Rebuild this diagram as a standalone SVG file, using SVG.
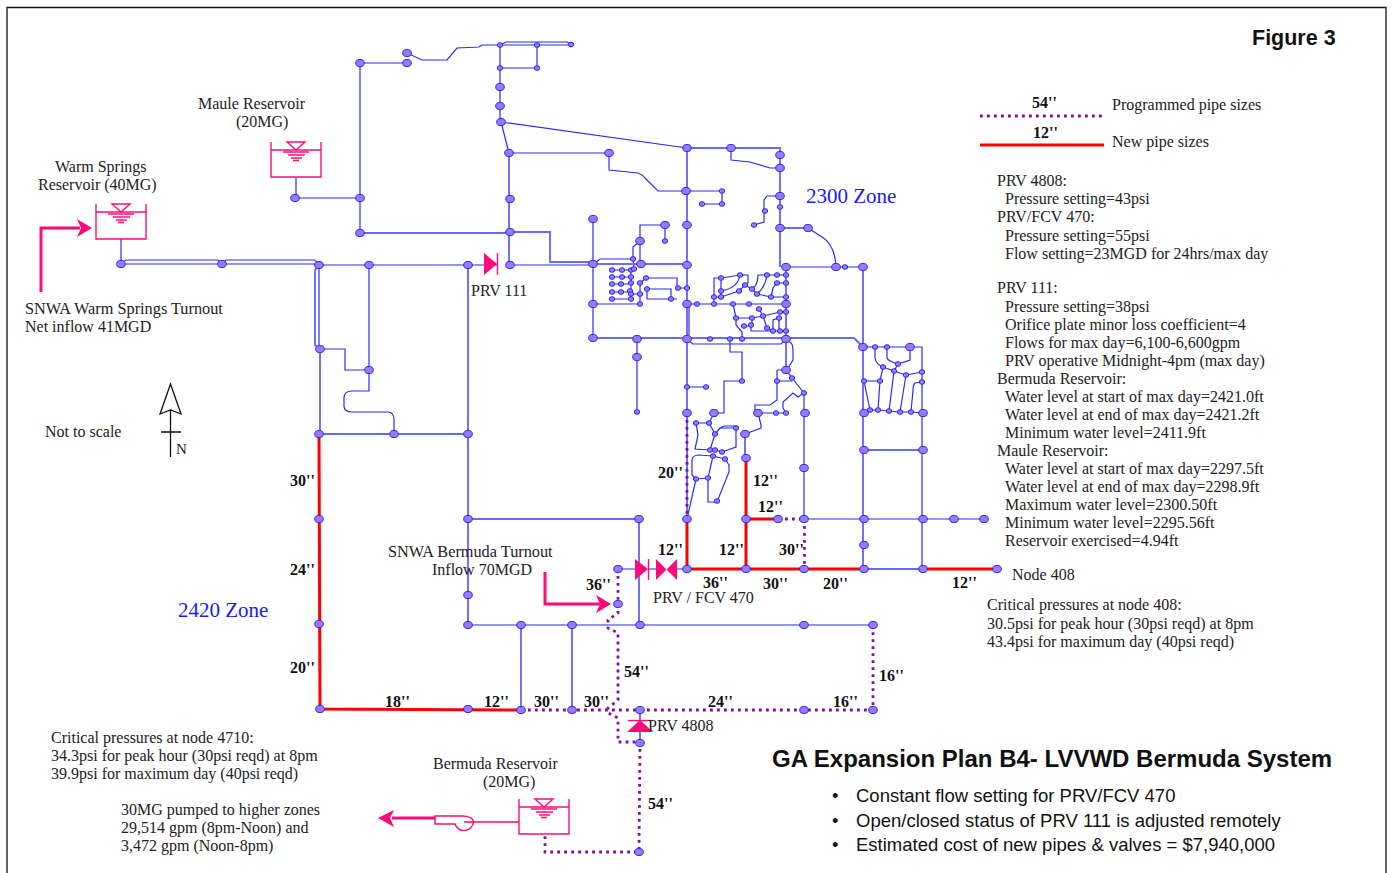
<svg xmlns="http://www.w3.org/2000/svg" width="1392" height="873" viewBox="0 0 1392 873">
<style>
text{font-family:"Liberation Serif","Times New Roman",serif;font-size:16px;fill:#222}
.c{font-size:16.3px}
.b{font-weight:bold;font-size:16px;fill:#111}
.z{font-size:21px;fill:#1a1aff}
.h{font-family:"Liberation Sans",Arial,sans-serif;font-weight:bold;fill:#111}
.g{font-size:21.5px}
.e{font-size:24px}
.u{font-family:"Liberation Sans",Arial,sans-serif;font-size:18.5px;fill:#111}
path{fill:none}
.t{stroke:#2a2aff;stroke-width:1.2}
.w{stroke:#6a6aff;stroke-width:1.9}
.r{stroke:#f00;stroke-width:3}
.d{stroke:#80109a;stroke-width:2.8;stroke-dasharray:2.8 4.2}
.m{stroke:#ff0a78;stroke-width:1.4}
.a{stroke:#ff0a78;stroke-width:3}
.f{fill:#ff0a78;stroke:none}
.k{stroke:#111;stroke-width:1.3}
.L,.S{fill:#9a78ff;stroke:#2a2aee;stroke-width:1}
.L{rx:4.3px;ry:3.6px}
.S{rx:2.7px;ry:2.3px}
</style>
<defs>
<g id="tank">
<path class="m" d="M-25,-8V27H25V-8M-25,0H25"/>
<path class="m" d="M-9,-8H9L0,0ZM-13,2H13M-8,5H9M-5,8H6M-3,10.500H3"/>
</g>
</defs>
<g id="frame"><path class="k" d="M7,873V7.500H1386V873"/></g>
<g id="connectors">
<g id="pipes-thin">
<path class="t" d="M360,63H407M407,53L422,60H447L457,48L479,47L482,45H500M500,45L506,42H567L571,44.500M500,45H571M500,45V122M500,68H537V45M501,122L509,153M501,122L687,148M509,153H609V170L638,173Q643,175 645,178L658,191H686M686,191H722V204H702"/>
<path class="t" d="M731,148V160L750,162L770,168H780M780,196H767L764,200V222L754,225M808,228L822,237Q835,245 836,267M360,63V233M121,239V264M296,178V198H360M593,219V338M510,265H593M633,259H600L594,264M640,241L633,247V259M634,269L633,259M665,225V241M665,225H640V264"/>
<path class="t" d="M121,264H222H319M121,264L126,260H218L222,264L226,260H315L319,265M319,265H497M320,349H345V370H369M369,265V391H352Q344,391 344,398V406Q344,412 352,412H388Q394,412 394,420V434M319,265V349"/>
<path class="t" d="M612,270H634M612,277H631M612,284H631M612,292H630M612,299H631M631,270V299M631,294H640M640,283V304M640,283L646,278H677V288H687M647,289H671V299H647V289M671,299H677M640,304H593M637,339V412M687,387H706"/>
<path class="t" d="M687,304H786M714,304V278H721V297M714,297H721M721,278L740,275M740,275Q738,288 721,291M721,297L739,291L745,285L748,283V275H740M745,285L752,289Q758,285 758,275H767H786M767,275Q765,288 757,294L752,289M757,294L771,297H786M771,297L773,288L777,283H786"/>
<path class="t" d="M733,304L736,318H752L763,316L780,312H786M759,309L763,316L767,328L773,331M736,318V325L742,332V339M752,318V325M744,326H751V331H786M773,331V320L779,318V331M730,339V352H742V381H724V413H714M687,304L689,308V335M687,339L693,344H781L786,339"/>
<path class="t" d="M786,339L790,342Q793,344 793,350V360L788,368M786,370L792,378L804,393V519M777,370H786M777,370V381H792M777,381V400L770,405H755V410L758,413H786M804,393L798,397L793,393L783,402V408L786,413M758,413L761,425V428L745,434"/>
<path class="t" d="M714,413L709,423H696L698,435L695,449L710,450H715L722,452M709,423L715,434L710,450M715,434L720,428L724,426H736V447L722,452M720,428H736M713,456L698,455Q692,456 692,460V475L696,479L708,478L713,456M708,478V502H717L729,472V465L725,459L713,456M696,479L687,519"/>
<path class="t" d="M863,347H922V569M875,347V358Q876,364 883,367L880,381L878,410M864,381H880M864,381L870,410M887,347V358Q888,361 898,364L910,360V347M883,367L894,371L906,375L922,372M894,371L889,411M906,375L900,412M922,382L915,383Q913,385 913,390L911,412M864,413L870,410H878L889,411L900,412L911,412L923,413M894,371L898,364"/>
<path class="t" d="M786,267H863M468,625H873M618,569H635M648,569H656M677,569H687M923,519H984M804,519H923"/>
</g>
<g id="pipes-wide">
<path class="w" d="M687,148V519M687,148H780V267M786,267V370M863,267V569M360,233H510M510,232H550V262H593M509,153V265M593,264H687M593,338H687H786H854L863,347M319,265L315,270V345L320,349V434M319,434H468M468,265V625M468,519H639V625M864,450H923M864,569H923M745,434V458M521,625V710M572,625V710M640,710V720M640,732V743M780,228H808"/>
</g>
<g id="pipes-new">
<path class="r" d="M319,434L320,709L521,710M687,519V569L864,569M923,569L997,569M746,458V569M746,519L778,519M980,145H1104"/>
</g>
<g id="pipes-programmed">
<path class="d" d="M687,413V519M778,519H804M804.500,519V569M618,569V613L608,620V628L618,633V700L608,708V713L618,718V742H640M521,710H873V625M640,742L639,852H545V835M980,116H1104"/>
</g>
</g>
<g id="nodes">
<g id="n1"><ellipse class="L" cx="407" cy="53"/></g><g id="n2"><ellipse class="L" cx="407" cy="63"/></g><g id="n3"><ellipse class="L" cx="360" cy="63"/></g><g id="n4"><ellipse class="S" cx="500" cy="45"/></g><g id="n5"><ellipse class="S" cx="537" cy="45"/></g><g id="n6"><ellipse class="S" cx="571" cy="44.500"/></g><g id="n7"><ellipse class="S" cx="500" cy="68"/></g><g id="n8"><ellipse class="S" cx="537" cy="68"/></g><g id="n9"><ellipse class="L" cx="500" cy="87"/></g><g id="n10"><ellipse class="L" cx="500" cy="106"/></g><g id="n11"><ellipse class="L" cx="501" cy="122"/></g><g id="n12"><ellipse class="L" cx="509" cy="153"/></g><g id="n13"><ellipse class="L" cx="609" cy="153"/></g><g id="n14"><ellipse class="L" cx="687" cy="148"/></g><g id="n15"><ellipse class="L" cx="731" cy="148"/></g><g id="n16"><ellipse class="L" cx="780" cy="155"/></g><g id="n17"><ellipse class="L" cx="780" cy="168"/></g><g id="n18"><ellipse class="L" cx="686" cy="191"/></g><g id="n19"><ellipse class="S" cx="722" cy="191"/></g><g id="n20"><ellipse class="S" cx="722" cy="204"/></g><g id="n21"><ellipse class="S" cx="702" cy="204"/></g><g id="n22"><ellipse class="L" cx="780" cy="196"/></g><g id="n23"><ellipse class="S" cx="780" cy="207"/></g><g id="n24"><ellipse class="S" cx="765" cy="211"/></g><g id="n25"><ellipse class="S" cx="754" cy="225"/></g><g id="n26"><ellipse class="L" cx="780" cy="228"/></g><g id="n27"><ellipse class="L" cx="808" cy="228"/></g><g id="n28"><ellipse class="L" cx="510" cy="199"/></g><g id="n29"><ellipse class="L" cx="510" cy="232"/></g><g id="n30"><ellipse class="L" cx="360" cy="233"/></g><g id="n31"><ellipse class="L" cx="360" cy="198"/></g><g id="n32"><ellipse class="L" cx="510" cy="265"/></g><g id="n33"><ellipse class="L" cx="468" cy="265"/></g><g id="n34"><ellipse class="L" cx="369" cy="265"/></g><g id="n35"><ellipse class="L" cx="593" cy="219"/></g><g id="n36"><ellipse class="L" cx="593" cy="264"/></g><g id="n37"><ellipse class="L" cx="687" cy="225"/></g><g id="n38"><ellipse class="L" cx="665" cy="225"/></g><g id="n39"><ellipse class="S" cx="665" cy="241"/></g><g id="n40"><ellipse class="L" cx="640" cy="241"/></g><g id="n41"><ellipse class="L" cx="641" cy="264"/></g><g id="n42"><ellipse class="S" cx="633" cy="259"/></g><g id="n43"><ellipse class="L" cx="687" cy="265"/></g>
<g id="n44"><ellipse class="S" cx="612" cy="270"/></g><g id="n45"><ellipse class="S" cx="622" cy="270"/></g><g id="n46"><ellipse class="S" cx="631" cy="270"/></g><g id="n47"><ellipse class="S" cx="634" cy="269"/></g><g id="n48"><ellipse class="S" cx="612" cy="277"/></g><g id="n49"><ellipse class="S" cx="622" cy="277"/></g><g id="n50"><ellipse class="S" cx="631" cy="277"/></g><g id="n51"><ellipse class="S" cx="612" cy="284"/></g><g id="n52"><ellipse class="S" cx="621" cy="284"/></g><g id="n53"><ellipse class="S" cx="631" cy="283"/></g><g id="n54"><ellipse class="S" cx="612" cy="292"/></g><g id="n55"><ellipse class="S" cx="621" cy="292"/></g><g id="n56"><ellipse class="S" cx="630" cy="291"/></g><g id="n57"><ellipse class="S" cx="612" cy="299"/></g><g id="n58"><ellipse class="S" cx="631" cy="299"/></g><g id="n59"><ellipse class="S" cx="631" cy="294"/></g><g id="n60"><ellipse class="S" cx="640" cy="283"/></g><g id="n61"><ellipse class="S" cx="646" cy="278"/></g><g id="n62"><ellipse class="S" cx="640" cy="294"/></g><g id="n63"><ellipse class="S" cx="640" cy="304"/></g><g id="n64"><ellipse class="S" cx="647" cy="289"/></g><g id="n65"><ellipse class="S" cx="671" cy="299"/></g><g id="n66"><ellipse class="S" cx="678" cy="288"/></g><g id="n67"><ellipse class="S" cx="687" cy="288"/></g>
<g id="n68"><ellipse class="L" cx="593" cy="304"/></g><g id="n69"><ellipse class="L" cx="687" cy="304"/></g><g id="n70"><ellipse class="L" cx="593" cy="338"/></g><g id="n71"><ellipse class="L" cx="637" cy="339"/></g><g id="n72"><ellipse class="L" cx="637" cy="357"/></g><g id="n73"><ellipse class="L" cx="687" cy="339"/></g><g id="n74"><ellipse class="S" cx="637" cy="412"/></g>
<g id="n75"><ellipse class="S" cx="697" cy="304"/></g><g id="n76"><ellipse class="S" cx="714" cy="304"/></g><g id="n77"><ellipse class="S" cx="733" cy="304"/></g><g id="n78"><ellipse class="S" cx="749" cy="304"/></g><g id="n79"><ellipse class="L" cx="786" cy="304"/></g><g id="n80"><ellipse class="S" cx="714" cy="297"/></g><g id="n81"><ellipse class="S" cx="721" cy="297"/></g><g id="n82"><ellipse class="S" cx="721" cy="291"/></g><g id="n83"><ellipse class="S" cx="721" cy="278"/></g><g id="n84"><ellipse class="S" cx="740" cy="275"/></g><g id="n85"><ellipse class="S" cx="745" cy="285"/></g><g id="n86"><ellipse class="S" cx="739" cy="291"/></g><g id="n87"><ellipse class="S" cx="752" cy="289"/></g><g id="n88"><ellipse class="S" cx="757" cy="294"/></g><g id="n89"><ellipse class="S" cx="767" cy="275"/></g><g id="n90"><ellipse class="S" cx="777" cy="275"/></g><g id="n91"><ellipse class="S" cx="786" cy="275"/></g><g id="n92"><ellipse class="S" cx="777" cy="283"/></g><g id="n93"><ellipse class="S" cx="786" cy="283"/></g><g id="n94"><ellipse class="S" cx="771" cy="297"/></g><g id="n95"><ellipse class="S" cx="786" cy="297"/></g><g id="n96"><ellipse class="L" cx="786" cy="267"/></g>
<g id="n97"><ellipse class="S" cx="759" cy="309"/></g><g id="n98"><ellipse class="S" cx="780" cy="312"/></g><g id="n99"><ellipse class="S" cx="786" cy="312"/></g><g id="n100"><ellipse class="S" cx="779" cy="318"/></g><g id="n101"><ellipse class="S" cx="763" cy="316"/></g><g id="n102"><ellipse class="S" cx="752" cy="318"/></g><g id="n103"><ellipse class="S" cx="736" cy="318"/></g><g id="n104"><ellipse class="S" cx="751" cy="325"/></g><g id="n105"><ellipse class="S" cx="744" cy="326"/></g><g id="n106"><ellipse class="S" cx="767" cy="328"/></g><g id="n107"><ellipse class="S" cx="773" cy="331"/></g><g id="n108"><ellipse class="S" cx="780" cy="331"/></g><g id="n109"><ellipse class="S" cx="786" cy="331"/></g><g id="n110"><ellipse class="L" cx="786" cy="339"/></g><g id="n111"><ellipse class="S" cx="742" cy="339"/></g><g id="n112"><ellipse class="S" cx="730" cy="339"/></g><g id="n113"><ellipse class="S" cx="710" cy="339"/></g><g id="n114"><ellipse class="L" cx="786" cy="370"/></g><g id="n115"><ellipse class="S" cx="792" cy="378"/></g><g id="n116"><ellipse class="S" cx="742" cy="381"/></g>
<g id="n117"><ellipse class="L" cx="687" cy="413"/></g><g id="n118"><ellipse class="S" cx="687" cy="387"/></g><g id="n119"><ellipse class="S" cx="706" cy="387"/></g><g id="n120"><ellipse class="L" cx="714" cy="413"/></g><g id="n121"><ellipse class="L" cx="758" cy="413"/></g><g id="n122"><ellipse class="S" cx="776" cy="413"/></g><g id="n123"><ellipse class="S" cx="786" cy="413"/></g><g id="n124"><ellipse class="L" cx="805" cy="413"/></g><g id="n125"><ellipse class="S" cx="777" cy="381"/></g><g id="n126"><ellipse class="S" cx="804" cy="393"/></g><g id="n127"><ellipse class="L" cx="745" cy="434"/></g><g id="n128"><ellipse class="L" cx="746" cy="458"/></g><g id="n129"><ellipse class="S" cx="736" cy="428"/></g><g id="n130"><ellipse class="S" cx="715" cy="434"/></g><g id="n131"><ellipse class="S" cx="696" cy="423"/></g><g id="n132"><ellipse class="S" cx="709" cy="423"/></g><g id="n133"><ellipse class="S" cx="710" cy="450"/></g><g id="n134"><ellipse class="S" cx="715" cy="450"/></g><g id="n135"><ellipse class="S" cx="722" cy="452"/></g><g id="n136"><ellipse class="S" cx="713" cy="456"/></g><g id="n137"><ellipse class="S" cx="725" cy="459"/></g><g id="n138"><ellipse class="S" cx="696" cy="479"/></g><g id="n139"><ellipse class="S" cx="708" cy="478"/></g><g id="n140"><ellipse class="S" cx="717" cy="501"/></g><g id="n141"><ellipse class="L" cx="804" cy="468"/></g>
<g id="n142"><ellipse class="L" cx="687" cy="519"/></g><g id="n143"><ellipse class="L" cx="746" cy="519"/></g><g id="n144"><ellipse class="L" cx="778" cy="519"/></g><g id="n145"><ellipse class="L" cx="804" cy="519"/></g><g id="n146"><ellipse class="L" cx="864" cy="519"/></g><g id="n147"><ellipse class="L" cx="923" cy="519"/></g><g id="n148"><ellipse class="L" cx="954" cy="519"/></g><g id="n149"><ellipse class="L" cx="984" cy="519"/></g><g id="n150"><ellipse class="L" cx="864" cy="450"/></g><g id="n151"><ellipse class="L" cx="923" cy="450"/></g><g id="n152"><ellipse class="L" cx="864" cy="413"/></g><g id="n153"><ellipse class="L" cx="923" cy="413"/></g>
<g id="n154"><ellipse class="S" cx="870" cy="410"/></g><g id="n155"><ellipse class="S" cx="878" cy="410"/></g><g id="n156"><ellipse class="S" cx="889" cy="411"/></g><g id="n157"><ellipse class="S" cx="900" cy="412"/></g><g id="n158"><ellipse class="S" cx="911" cy="412"/></g><g id="n159"><ellipse class="S" cx="864" cy="381"/></g><g id="n160"><ellipse class="S" cx="880" cy="381"/></g><g id="n161"><ellipse class="S" cx="883" cy="367"/></g><g id="n162"><ellipse class="S" cx="894" cy="371"/></g><g id="n163"><ellipse class="S" cx="898" cy="364"/></g><g id="n164"><ellipse class="S" cx="906" cy="375"/></g><g id="n165"><ellipse class="S" cx="922" cy="372"/></g><g id="n166"><ellipse class="S" cx="922" cy="382"/></g><g id="n167"><ellipse class="L" cx="863" cy="347"/></g><g id="n168"><ellipse class="S" cx="875" cy="347"/></g><g id="n169"><ellipse class="S" cx="887" cy="347"/></g><g id="n170"><ellipse class="L" cx="910" cy="347"/></g><g id="n171"><ellipse class="L" cx="836" cy="267"/></g><g id="n172"><ellipse class="S" cx="845" cy="267"/></g><g id="n173"><ellipse class="L" cx="863" cy="267"/></g>
<g id="n174"><ellipse class="L" cx="319" cy="265"/></g><g id="n175"><ellipse class="L" cx="320" cy="349"/></g><g id="n176"><ellipse class="L" cx="369" cy="370"/></g><g id="n177"><ellipse class="L" cx="319" cy="434"/></g><g id="n178"><ellipse class="L" cx="394" cy="434"/></g><g id="n179"><ellipse class="L" cx="468" cy="434"/></g><g id="n180"><ellipse class="L" cx="319" cy="519"/></g><g id="n181"><ellipse class="L" cx="319" cy="624"/></g><g id="n182"><ellipse class="L" cx="320" cy="709"/></g><g id="n183"><ellipse class="L" cx="468" cy="709"/></g><g id="n184"><ellipse class="L" cx="468" cy="519"/></g><g id="n185"><ellipse class="L" cx="468" cy="595"/></g><g id="n186"><ellipse class="L" cx="468" cy="625"/></g><g id="n187"><ellipse class="L" cx="121" cy="264"/></g><g id="n188"><ellipse class="L" cx="222" cy="264"/></g><g id="n189"><ellipse class="L" cx="295" cy="198"/></g>
<g id="n190"><ellipse class="L" cx="639" cy="519"/></g><g id="n191"><ellipse class="L" cx="618" cy="569"/></g><g id="n192"><ellipse class="L" cx="687" cy="569"/></g><g id="n193"><ellipse class="L" cx="746" cy="569"/></g><g id="n194"><ellipse class="L" cx="804" cy="569"/></g><g id="n195"><ellipse class="L" cx="864" cy="569"/></g><g id="n196"><ellipse class="L" cx="864" cy="545"/></g><g id="n197"><ellipse class="L" cx="923" cy="569"/></g><g id="n198"><ellipse class="L" cx="997" cy="569"/></g><g id="n199"><ellipse class="L" cx="618" cy="604"/></g><g id="n200"><ellipse class="L" cx="521" cy="625"/></g><g id="n201"><ellipse class="L" cx="572" cy="625"/></g><g id="n202"><ellipse class="L" cx="640" cy="625"/></g><g id="n203"><ellipse class="L" cx="804" cy="625"/></g><g id="n204"><ellipse class="L" cx="873" cy="625"/></g><g id="n205"><ellipse class="L" cx="521" cy="710"/></g><g id="n206"><ellipse class="L" cx="572" cy="710"/></g><g id="n207"><ellipse class="L" cx="640" cy="710"/></g><g id="n208"><ellipse class="L" cx="804" cy="710"/></g><g id="n209"><ellipse class="L" cx="873" cy="710"/></g><g id="n210"><ellipse class="L" cx="640" cy="743"/></g><g id="n211"><ellipse class="L" cx="639" cy="852"/></g>
</g>
<g id="warm-springs-reservoir"><use href="#tank" x="121" y="212"/></g>
<g id="maule-reservoir"><use href="#tank" x="296" y="150"/></g>
<g id="bermuda-reservoir"><use href="#tank" x="544" y="807"/></g>
<g id="prv-111"><path class="f" d="M484,253V275L497,264Z"/><path class="m" d="M497.500,253V275"/></g>
<g id="prv-470"><path class="f" d="M635,559V580L648,569Z"/><path class="m" d="M648.500,559V580"/><path class="f" d="M656,559L666.500,569.500L656,580ZM677,559L666.500,569.500L677,580Z"/></g>
<g id="prv-4808"><path class="f" d="M627,732H653L640,720Z"/><path class="m" d="M628,720.500H652"/></g>
<g id="pump"><path class="m" d="M435,816H462Q473,816 473.500,822A9.500,9.500 0 0 1 455,824H435ZM464,822H519"/></g>
<g id="arrows">
<path class="a" d="M41,292V228H80"/><path class="f" d="M92,228L77,219L81,228L77,237Z"/>
<path class="a" d="M545,572V604H600"/><path class="f" d="M611,604L596,595L600,604L596,613Z"/>
<path class="a" d="M435,818H392"/><path class="f" d="M378,818L394,810L390,818L394,827Z"/>
</g>
<g id="north"><path class="k" d="M170.500,384L160,414L170.500,410L181,414ZM170.500,410V457M161,432H181"/></g>
<g id="labels">
<text x="198" y="109">Maule Reservoir</text><text x="236" y="127">(20MG)</text>
<text x="55" y="172">Warm Springs</text><text x="38" y="190">Reservoir (40MG)</text>
<text x="25" y="314" class="c">SNWA Warm Springs Turnout</text><text x="25" y="332">Net inflow 41MGD</text>
<text x="471" y="296">PRV 111</text><text x="45" y="437">Not to scale</text><text x="176" y="454" style="font-size:15px">N</text>
<text x="806" y="203" class="z">2300 Zone</text><text x="178" y="617" class="z">2420 Zone</text>
<text x="1032" y="108" class="b">54''</text><text x="1112" y="110">Programmed pipe sizes</text>
<text x="1033" y="138" class="b">12''</text><text x="1112" y="147">New pipe sizes</text>
<text x="997" y="186">PRV 4808:</text><text x="1005" y="204">Pressure setting=43psi</text>
<text x="997" y="222">PRV/FCV 470:</text><text x="1005" y="241">Pressure setting=55psi</text><text x="1005" y="259">Flow setting=23MGD for 24hrs/max day</text>
<text x="997" y="293">PRV 111:</text><text x="1005" y="312">Pressure setting=38psi</text><text x="1005" y="330">Orifice plate minor loss coefficient=4</text><text x="1005" y="348">Flows for max day=6,100-6,600gpm</text><text x="1005" y="366">PRV operative Midnight-4pm (max day)</text>
<text x="997" y="384">Bermuda Reservoir:</text><text x="1005" y="402">Water level at start of max day=2421.0ft</text><text x="1005" y="420">Water level at end of max day=2421.2ft</text><text x="1005" y="438">Minimum water level=2411.9ft</text>
<text x="997" y="456">Maule Reservoir:</text><text x="1005" y="474">Water level at start of max day=2297.5ft</text><text x="1005" y="492">Water level at end of max day=2298.9ft</text><text x="1005" y="510">Maximum water level=2300.50ft</text><text x="1005" y="528">Minimum water level=2295.56ft</text><text x="1005" y="546">Reservoir exercised=4.94ft</text>
<text x="1012" y="580">Node 408</text>
<text x="987" y="610">Critical pressures at node 408:</text><text x="987" y="629">30.5psi for peak hour (30psi reqd) at 8pm</text><text x="987" y="647">43.4psi for maximum day (40psi reqd)</text>
<text x="51" y="743">Critical pressures at node 4710:</text><text x="51" y="761">34.3psi for peak hour (30psi reqd) at 8pm</text><text x="51" y="779">39.9psi for maximum day (40psi reqd)</text>
<text x="121" y="815">30MG pumped to higher zones</text><text x="121" y="833">29,514 gpm (8pm-Noon) and</text><text x="121" y="851">3,472 gpm (Noon-8pm)</text>
<text x="433" y="769">Bermuda Reservoir</text><text x="483" y="787">(20MG)</text>
<text x="388" y="557" class="c">SNWA Bermuda Turnout</text><text x="432" y="575">Inflow 70MGD</text>
<text x="653" y="603">PRV / FCV 470</text><text x="648" y="731">PRV 4808</text>
<text class="b" x="290" y="486">30''</text><text class="b" x="290" y="575">24''</text><text class="b" x="290" y="673">20''</text><text class="b" x="385" y="707">18''</text><text class="b" x="484" y="707">12''</text><text class="b" x="534" y="707">30''</text><text class="b" x="584" y="707">30''</text><text class="b" x="708" y="707">24''</text><text class="b" x="833" y="707">16''</text><text class="b" x="624" y="677">54''</text><text class="b" x="648" y="809">54''</text><text class="b" x="879" y="681">16''</text><text class="b" x="586" y="590">36''</text><text class="b" x="658" y="555">12''</text><text class="b" x="719" y="555">12''</text><text class="b" x="703" y="588">36''</text><text class="b" x="763" y="589">30''</text><text class="b" x="823" y="589">20''</text><text class="b" x="952" y="588">12''</text><text class="b" x="779" y="555">30''</text><text class="b" x="758" y="512">12''</text><text class="b" x="753" y="486">12''</text><text class="b" x="658" y="478">20''</text>
<text class="h g" x="1252" y="45">Figure 3</text>
<text class="h e" x="772" y="767">GA Expansion Plan B4- LVVWD Bermuda System</text>
<text class="u" x="832" y="802">•</text><text class="u" x="856" y="802">Constant flow setting for PRV/FCV 470</text>
<text class="u" x="832" y="827">•</text><text class="u" x="856" y="827">Open/closed status of PRV 111 is adjusted remotely</text>
<text class="u" x="832" y="851">•</text><text class="u" x="856" y="851">Estimated cost of new pipes &amp; valves = $7,940,000</text>
</g>
</svg>
